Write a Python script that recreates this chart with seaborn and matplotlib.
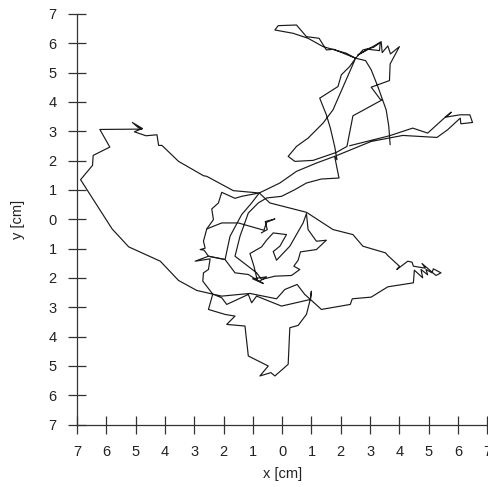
import numpy as np
import pandas as pd
import matplotlib
matplotlib.use("Agg")
import matplotlib.pyplot as plt
from matplotlib.ticker import FuncFormatter
import seaborn as sns

# trajectory, in cm, as three traced stretches
x_part1 = [3.685, 3.639, 3.549, 3.265, 3.039, 2.846, 2.506,
           2.188, 1.395, 0.884, 0.374, -0.249, -0.136, 0.488, 0.828, 1.259, 1.508, 1.757, 2.506,
           2.755, 3.118, 3.345, 3.322, 2.925, 2.585, 3.095, 3.379, 3.413, 3.605, 3.696, 4.002,
           3.685, 3.662, 3.039, 3.345, 3.413, 2.415, 2.211,
           1.848, 1.054, 0.431, 0.204, 0.488, 0.884, 1.395, 1.735, 2.132, 2.506,
           2.302, 2.018, 1.905, 1.281, 1.508, 1.644, 1.791, 1.871, 1.791, 1.939, 1.338, 0.828,
           0.431, -0.023, -0.533, -0.816, -1.156, -1.440, -1.610,
           -0.873, -0.703, -0.249, 0.317, 0.601, 0.397, 0.544, 0.624, 1.168, 1.508, 1.168, 0.884, 0.828,
           0.714, 0.261, -0.193, -0.306, -0.079, 0.147, -0.306, -0.533, -0.703, -1.100, -0.964,
           -0.850, -0.646, -1.009, -0.533, -0.782,
           -1.156, -1.610, -1.950,
           -2.517, -2.664, -2.800, -2.630, -2.687, -2.574,
           -2.063, -1.497, -0.624, -0.533, -0.249, -0.578, -0.510, -0.714]
y_part1 = [2.540, 3.163, 3.730, 4.524, 5.091, 5.408, 5.488,
           5.658, 5.884, 6.168, 6.338, 6.451, 6.599, 6.621, 6.224, 6.168, 5.771, 5.794, 5.488,
           5.771, 5.862, 6.020, 5.748, 5.794, 5.601, 5.884, 6.054, 5.680, 5.907, 5.635, 5.884,
           5.295, 4.728, 4.501, 4.093, 4.070, 3.526, 2.483,
           2.279, 2.007, 1.973, 2.143, 2.483, 2.766, 3.277, 3.730, 4.637, 5.488,
           5.204, 4.921, 4.524, 4.127, 3.560, 3.107, 2.483, 2.029, 2.143, 1.406, 1.372, 1.236,
           1.009, 0.782, 0.726, 0.556, 0.215, -0.578, -1.259,
           -1.825, -2.052, -1.939, -1.916, -1.712, -1.599, -1.395, -1.111, -1.032, -0.714, -0.748, -0.351, 0.193,
           -0.125, -0.918, -1.395, -1.100, -0.918, -0.522, -0.465, -0.714, -0.941, -1.168, -1.599,
           -2.075, -2.188, -2.029, -1.961, -2.120,
           -1.882, -1.825, -1.372,
           -1.259, -1.054, -1.032, -0.986, -0.748, -0.329,
           -0.125, -0.125, -0.374, -0.102, 0.011, -0.079, -0.351, -0.465]

x_part2 = [-2.574, -2.347, -2.404, -2.177, -2.063, -1.610, -1.383, -0.782,
           -1.667, -2.574, -2.687, -3.537, -4.104, -4.218, -4.274, -4.649, -5.045, -4.773,
           -5.113, -4.932, -4.785, -6.224, -5.884, -6.451, -6.474, -6.882, -5.805, -5.238,
           -4.161, -3.537, -2.914, -2.370,
           -2.517, -1.950, -1.610, -1.893, -1.270, -1.156, -0.476, -0.760, -0.385, -0.249, 0.204,
           0.261, 0.544, 0.828, 0.964, 0.998, 0.964,
           0.771, 0.510, 0.091, -0.193, -1.100, -2.063, -2.370,
           -2.063, -1.893, -1.156, -1.043, -0.873, -0.023, 0.964,
           1.338, 2.324, 2.392, 3.039, 3.605, 4.478, 4.512, 4.796, 4.739, 4.966, 4.909, 5.113,
           5.159, 5.420, 5.249, 4.773, 4.887, 4.478, 4.433, 4.286, 3.912, 4.002, 3.605, 3.526,
           2.755, 2.415, 1.735, 0.828, -0.420, -0.782,
           -1.043, -1.383, -1.780, -1.950,
           -2.517, -2.971, -2.460, -2.517, -2.687, -2.710, -2.370]
y_part2 = [-0.329, -0.011, 0.351, 0.556, 0.918, 0.714, 0.782, 0.896,
           0.975, 1.463, 1.485, 1.973, 2.517, 2.517, 2.880, 2.846, 2.982, 3.095,
           3.299, 3.141, 3.073, 3.061, 2.460, 2.177, 1.837, 1.349, -0.329, -0.941,
           -1.429, -2.086, -2.426, -2.551,
           -3.073, -3.243, -3.299, -3.583, -3.639, -4.660, -5.000, -5.340, -5.227, -5.340, -4.943,
           -3.696, -3.617, -3.243, -2.710, -2.449, -2.732,
           -2.562, -2.222, -2.392, -2.710, -2.528, -2.619, -2.551,
           -2.676, -2.902, -2.562, -2.846, -2.619, -2.959, -2.732,
           -3.073, -2.902, -2.710, -2.653, -2.302, -2.166, -1.735, -1.995, -1.712, -1.893, -1.712, -1.825,
           -1.689, -1.825, -1.916, -1.508, -1.667, -1.599, -1.463, -1.429, -1.712, -1.599, -1.236, -1.145,
           -0.918, -0.522, -0.351, 0.238, 0.556, 0.896,
           0.556, 0.159, -0.578, -1.372,
           -1.259, -1.429, -1.349, -1.712, -1.825, -2.109, -2.551]

x_part3 = [-0.782, -0.079, 0.488, 1.168, 1.848, 3.039, 4.116, 5.283, 5.646, 6.077, 6.100, 6.497,
           6.406, 6.066, 5.590, 5.771, 5.567, 4.966, 4.456, 3.662, 2.302]
y_part3 = [0.896, 1.236, 1.633, 1.916, 2.166, 2.653, 2.857, 2.789, 3.050, 3.447, 3.254, 3.299,
           3.560, 3.560, 3.481, 3.651, 3.481, 2.937, 3.107, 2.846, 2.506]

ticks = list(range(-7, 8))
x_label = "x [cm]"
y_label = "y [cm]"

parts = [(x_part1, y_part1), (x_part2, y_part2), (x_part3, y_part3)]
df = pd.concat([pd.DataFrame({'x': xs, 'y': ys, 'part': i, 'order': range(len(xs))})
                for i, (xs, ys) in enumerate(parts)], ignore_index=True)

sns.set_style("white")
plt.rcParams['font.family'] = ['Liberation Sans', 'DejaVu Sans']

fig = plt.figure(figsize=(4.88, 4.87), dpi=100)
ax = fig.add_axes([0.158, 0.128, 0.8405, 0.8435])

sns.lineplot(data=df, x='x', y='y', units='part', sort=False, estimator=None,
             color='#1a1a1a', linewidth=0.85, ax=ax)

ax.set_xlim(-7, 7)
ax.set_ylim(-7, 7)
ax.set_xticks(ticks)
ax.set_yticks(ticks)
fmt = FuncFormatter(lambda v, pos: f"{abs(int(round(v)))}")
ax.xaxis.set_major_formatter(fmt)
ax.yaxis.set_major_formatter(fmt)
ax.set_xlabel(x_label)
ax.set_ylabel(y_label)

for side in ['top', 'right']:
    ax.spines[side].set_visible(False)
for side in ['left', 'bottom']:
    ax.spines[side].set_color('#333333')
    ax.spines[side].set_linewidth(0.9)

ax.tick_params(axis='both', bottom=True, left=True, direction='inout', length=13.5,
               width=0.9, color='#333333', labelsize=10.5, labelcolor='#222222', pad=8)

ax.xaxis.label.set_size(10.5)
ax.yaxis.label.set_size(10.5)
ax.xaxis.label.set_color('#222222')
ax.yaxis.label.set_color('#222222')
ax.xaxis.labelpad = 6
ax.yaxis.labelpad = 17
ax.set_facecolor('white')

plt.savefig('out.png', dpi=100)
